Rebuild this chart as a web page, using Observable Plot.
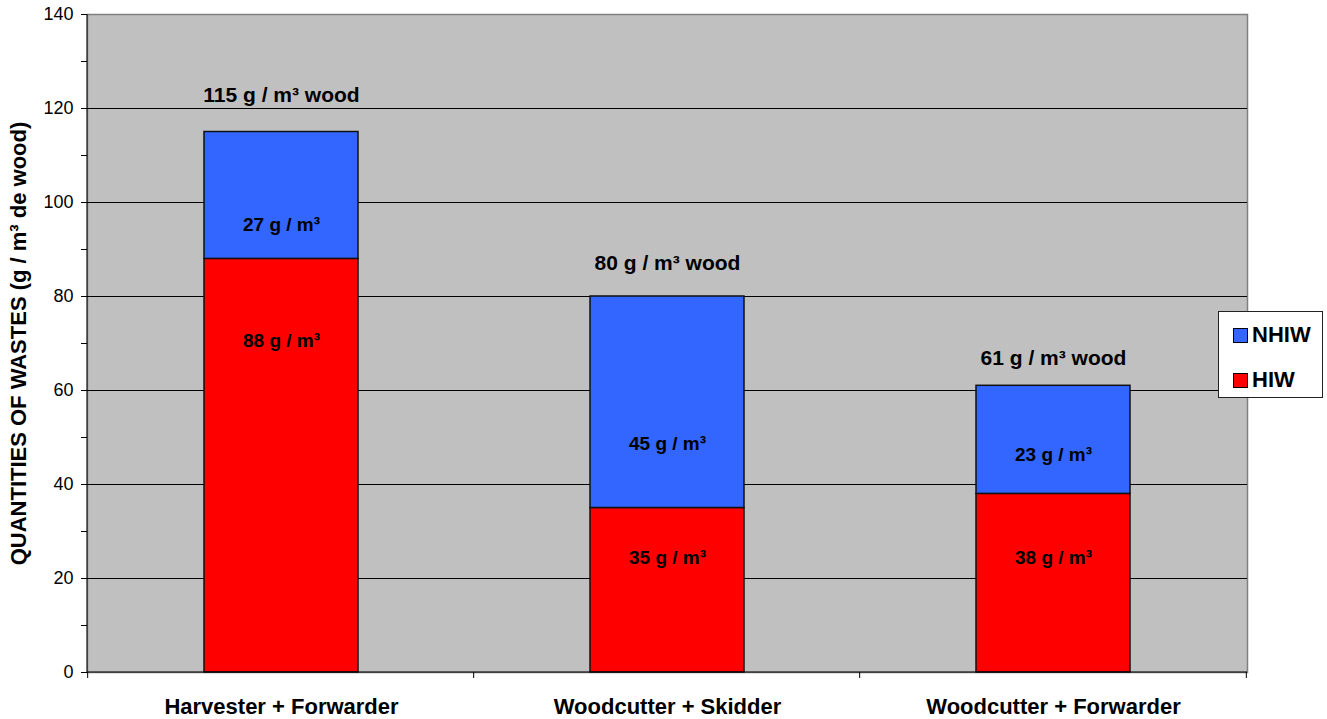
<!DOCTYPE html>
<html>
<head>
<meta charset="utf-8">
<script src="https://cdn.jsdelivr.net/npm/d3@7"></script>
<script src="https://cdn.jsdelivr.net/npm/@observablehq/plot@0.6"></script>
<style>
  html, body { margin: 0; padding: 0; background: #ffffff; }
  #chart { position: relative; width: 1327px; height: 719px; font-family: "Liberation Sans", Arial, sans-serif; }
  #legend {
    position: absolute; left: 1218px; top: 311px; width: 105px; height: 87px;
    background: #ffffff; border: 1px solid #222; box-sizing: border-box;
    font-weight: bold; font-size: 22px; color: #000;
  }
  #legend .item { position: absolute; left: 14px; display: flex; align-items: center; }
  #legend .sw { width: 13px; height: 13px; border: 1.5px solid #000; margin-right: 4px; }
</style>
</head>
<body>
<div id="chart"><div id="legend"></div></div>
<script>
// Logging systems compared
const machines = ["Harvester + Forwarder", "Woodcutter + Skidder", "Woodcutter + Forwarder"];
// Hydrocarbon-impregnated waste (HIW), g per m³ of wood
const hiw = [88, 35, 38];
// Non-hydrocarbon-impregnated waste (NHIW), g per m³ of wood
const nhiw = [27, 45, 23];
const seriesNames = ["NHIW", "HIW"];
const seriesColors = ["#3366ff", "#ff0000"];
const yTicks = [0, 10, 20, 30, 40, 50, 60, 70, 80, 90, 100, 110, 120, 130, 140];
const yTitle = "QUANTITIES OF WASTES (g / m³ de wood)";

// Where each label sits, in axis units
const hiwLabelAt = [70.6, 24.3, 24.3];
const nhiwLabelAt = [95.3, 48.7, 46.4];
const totalLabelAt = [122.8, 87.0, 66.8];

// Stacked rows: HIW at the bottom, NHIW on top
const rows = [
  ...machines.map((m, i) => ({machine: m, series: "HIW", value: hiw[i]})),
  ...machines.map((m, i) => ({machine: m, series: "NHIW", value: nhiw[i]}))
];
const segLabels = [
  ...machines.map((m, i) => ({machine: m, at: hiwLabelAt[i], text: `${hiw[i]} g / m³`})),
  ...machines.map((m, i) => ({machine: m, at: nhiwLabelAt[i], text: `${nhiw[i]} g / m³`}))
];
const totals = machines.map((m, i) => ({machine: m, at: totalLabelAt[i], text: `${hiw[i] + nhiw[i]} g / m³ wood`}));

// Short ticks below the category axis at the boundaries between categories, plus the black left/bottom axis lines
function categoryBoundaries(index, scales, values, dims) {
  const g = d3.create("svg:g");
  const left = dims.marginLeft, right = dims.width - dims.marginRight;
  const top = dims.marginTop, bottom = dims.height - dims.marginBottom;
  const step = (right - left) / machines.length;
  const xs = machines.map(m => scales.x(m) + (scales.x.bandwidth ? scales.x.bandwidth() / 2 : 0) - step / 2);
  xs.push(xs[xs.length - 1] + step);
  for (const x of xs) {
    g.append("line").attr("x1", x).attr("x2", x).attr("y1", bottom).attr("y2", bottom + 6)
      .attr("stroke", "#000").attr("stroke-width", 1);
  }
  g.append("line").attr("x1", left).attr("x2", left).attr("y1", top).attr("y2", bottom)
    .attr("stroke", "#000").attr("stroke-width", 1);
  g.append("line").attr("x1", left).attr("x2", right).attr("y1", bottom).attr("y2", bottom)
    .attr("stroke", "#000").attr("stroke-width", 1);
  return g.node();
}

const chart = Plot.plot({
  width: 1327,
  height: 719,
  marginLeft: 87,
  marginRight: 80,
  marginTop: 14,
  marginBottom: 47,
  style: {fontFamily: "'Liberation Sans', Arial, sans-serif", background: "transparent", color: "#000"},
  x: {domain: machines, paddingInner: 0.6, paddingOuter: 0.3, label: null},
  y: {domain: [0, 140], label: null},
  color: {domain: seriesNames, range: seriesColors},
  marks: [
    Plot.frame({fill: "#c0c0c0", stroke: "#808080", strokeWidth: 1.5}),
    Plot.gridY([20, 40, 60, 80, 100, 120], {stroke: "#000", strokeOpacity: 1, strokeWidth: 1}),
    Plot.barY(rows, {x: "machine", y: "value", fill: "series", stroke: "#111", strokeWidth: 1.5}),
    Plot.text(segLabels, {x: "machine", y: "at", text: "text", fontSize: 19, fontWeight: "bold", fill: "#000", lineAnchor: "middle"}),
    Plot.text(totals, {x: "machine", y: "at", text: "text", fontSize: 21, fontWeight: "bold", fill: "#000", lineAnchor: "middle"}),
    Plot.axisY(yTicks, {tickSize: 6, tickPadding: 8, fontSize: 18, tickFormat: d => d % 20 === 0 ? String(d) : "", label: null}),
    Plot.axisX({tickSize: 0, tickPadding: 26, fontSize: 22, fontWeight: "bold", label: null}),
    Plot.text([yTitle], {frameAnchor: "left", rotate: -90, dx: -69, fontSize: 22, fontWeight: "bold", fill: "#000", lineAnchor: "middle", textAnchor: "middle"}),
    categoryBoundaries
  ]
});
document.getElementById("chart").prepend(chart);
chart.style.position = "absolute";
chart.style.left = "0";
chart.style.top = "0";

// Legend (NHIW above HIW)
const legend = document.getElementById("legend");
seriesNames.forEach((name, i) => {
  const item = document.createElement("div");
  item.className = "item";
  item.style.top = (i === 0 ? 10 : 55) + "px";
  const sw = document.createElement("div");
  sw.className = "sw";
  sw.style.background = seriesColors[i];
  const label = document.createElement("span");
  label.textContent = name;
  item.append(sw, label);
  legend.append(item);
});
</script>
</body>
</html>
